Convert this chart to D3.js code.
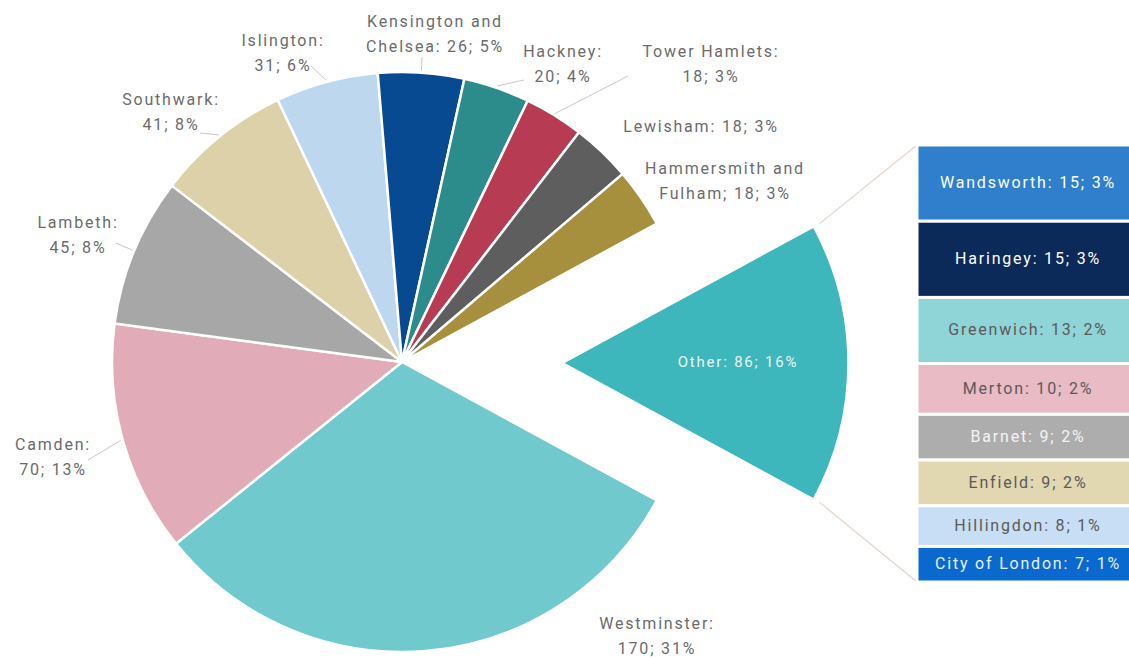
<!DOCTYPE html>
<html>
<head>
<meta charset="utf-8">
<script src="https://cdn.jsdelivr.net/npm/d3@7"></script>
<style>
  html, body { margin: 0; padding: 0; background: #ffffff; }
  svg { display: block; }
  text { font-family: "Roboto", "Noto Sans", sans-serif; letter-spacing: 1.8px; }
</style>
</head>
<body>
<svg id="chart" width="1129" height="660"></svg>
<script>
// Boroughs shown as their own pie slices (clockwise from the split-off slice)
const mainBoroughs = ["Westminster", "Camden", "Lambeth", "Southwark", "Islington",
  "Kensington and Chelsea", "Hackney", "Tower Hamlets", "Lewisham", "Hammersmith and Fulham"];
const mainValues = [170, 70, 45, 41, 31, 26, 20, 18, 18, 18];
const mainColors = ["#70c9cd", "#e2abb8", "#a7a7a7", "#dcd1a9", "#bdd7ee",
  "#074a92", "#2c8b8b", "#b73b53", "#5e5e5e", "#a68f3d"];

// Boroughs grouped into "Other" and broken out in the stacked bar
const otherBoroughs = ["Wandsworth", "Haringey", "Greenwich", "Merton", "Barnet",
  "Enfield", "Hillingdon", "City of London"];
const otherValues = [15, 15, 13, 10, 9, 9, 8, 7];
const otherColors = ["#2f7fcc", "#0b2a5a", "#8fd4d6", "#e8bbc5", "#adadad",
  "#e1d7b1", "#c8def4", "#0a69cf"];
const otherTextColors = ["#ffffff", "#ffffff", "#5a5a5a", "#5a5a5a", "#f4f4f4",
  "#5a5a5a", "#5a5a5a", "#e6f2ff"];
const otherLabel = "Other";
const otherColor = "#3db6bc";

// Label layout: text lines, anchor (centre x, first baseline y), optional leader end
const labelLayout = {
  "Westminster":            { lines: ["Westminster:", "{v}; {p}%"], x: 657, y: 629 },
  "Camden":                 { lines: ["Camden:", "{v}; {p}%"], x: 53, y: 450, leader: [88, 460] },
  "Lambeth":                { lines: ["Lambeth:", "{v}; {p}%"], x: 78, y: 228, leader: [116, 243] },
  "Southwark":              { lines: ["Southwark:", "{v}; {p}%"], x: 171, y: 105, leader: [200, 133] },
  "Islington":              { lines: ["Islington:", "{v}; {p}%"], x: 283, y: 46, leader: [311, 66] },
  "Kensington and Chelsea": { lines: ["Kensington and", "Chelsea: {v}; {p}%"], x: 435, y: 27, leader: [422, 57] },
  "Hackney":                { lines: ["Hackney:", "{v}; {p}%"], x: 563, y: 57, leader: [524, 80] },
  "Tower Hamlets":          { lines: ["Tower Hamlets:", "{v}; {p}%"], x: 711, y: 57, leader: [628, 76] },
  "Lewisham":               { lines: ["Lewisham: {v}; {p}%"], x: 701, y: 132 },
  "Hammersmith and Fulham": { lines: ["Hammersmith and", "Fulham; {v}; {p}%"], x: 725, y: 174 }
};

const svg = d3.select("#chart");
const W = 1129, H = 660;
svg.append("rect").attr("width", W).attr("height", H).attr("fill", "#ffffff");

const otherTotal = d3.sum(otherValues);
const slices = [{ name: otherLabel, value: otherTotal, color: otherColor }]
  .concat(mainBoroughs.map((n, i) => ({ name: n, value: mainValues[i], color: mainColors[i] })));
const total = d3.sum(slices, d => d.value);
const pct = v => Math.round(v / total * 100);

// Split-off slice is centred on the 3 o'clock direction
const otherSpan = otherTotal / total * 2 * Math.PI;
const start = Math.PI / 2 - otherSpan / 2;

const pie = d3.pie().sort(null).value(d => d.value)
  .startAngle(start).endAngle(start + 2 * Math.PI);
const arcsData = pie(slices);

const cx = 402, cy = 362, R = 290;
const otherCx = 563, otherCy = 363, otherR = 285;

const arc = d3.arc().innerRadius(0).outerRadius(R);
const otherArc = d3.arc().innerRadius(0).outerRadius(otherR);
const polar = (a, r) => [Math.sin(a) * r, -Math.cos(a) * r];

// Main pie
const gPie = svg.append("g").attr("transform", `translate(${cx},${cy})`);
gPie.selectAll("path.slice")
  .data(arcsData.filter(d => d.data.name !== otherLabel))
  .join("path")
  .attr("class", "slice")
  .attr("d", arc)
  .attr("fill", d => d.data.color)
  .attr("stroke", "#ffffff")
  .attr("stroke-width", 2.5)
  .attr("stroke-linejoin", "round");

// Exploded "Other" slice
const otherD = arcsData.find(d => d.data.name === otherLabel);
const gOther = svg.append("g").attr("transform", `translate(${otherCx},${otherCy})`);
gOther.append("path")
  .attr("d", otherArc(otherD))
  .attr("fill", otherColor)
  .attr("stroke", "#ffffff")
  .attr("stroke-width", 1.5);
gOther.append("text")
  .attr("x", 175).attr("y", 4)
  .attr("text-anchor", "middle")
  .attr("font-size", 15)
  .attr("fill", "#eaf9f9")
  .text(`${otherLabel}: ${otherTotal}; ${pct(otherTotal)}%`);

// Stacked bar breaking down "Other"
const barX = 917, barW = 222;
const y = d3.scaleLinear().domain([0, otherTotal]).range([145, 582]);
const cum = d3.cumsum(otherValues);
const barData = otherBoroughs.map((n, i) => ({
  name: n, value: otherValues[i], y0: cum[i] - otherValues[i], y1: cum[i],
  color: otherColors[i], text: otherTextColors[i]
}));

// Connector lines from the slice corners to the bar
const [tx, ty] = polar(otherD.startAngle, otherR + 7);
const [bx, by] = polar(otherD.endAngle, otherR + 7);
svg.append("line")
  .attr("x1", otherCx + tx).attr("y1", otherCy + ty)
  .attr("x2", barX).attr("y2", y(0))
  .attr("stroke", "#e6d3cb").attr("stroke-width", 1.2);
svg.append("line")
  .attr("x1", otherCx + bx).attr("y1", otherCy + by)
  .attr("x2", barX).attr("y2", y(otherTotal))
  .attr("stroke", "#e6d3cb").attr("stroke-width", 1.2);

const gBar = svg.append("g");
gBar.selectAll("rect")
  .data(barData)
  .join("rect")
  .attr("x", barX)
  .attr("y", d => y(d.y0))
  .attr("width", barW)
  .attr("height", d => y(d.y1) - y(d.y0))
  .attr("fill", d => d.color)
  .attr("stroke", "#ffffff")
  .attr("stroke-width", 3);
gBar.selectAll("text")
  .data(barData)
  .join("text")
  .attr("x", barX + barW / 2)
  .attr("y", d => (y(d.y0) + y(d.y1)) / 2 + 5)
  .attr("text-anchor", "middle")
  .attr("font-size", 16)
  .attr("fill", d => d.text)
  .text(d => `${d.name}: ${d.value}; ${pct(d.value)}%`);

// Outside labels and leader lines for the main slices
const gLab = svg.append("g");
arcsData.filter(d => d.data.name !== otherLabel).forEach(d => {
  const L = labelLayout[d.data.name];
  const v = d.data.value, p = pct(v);
  if (L.leader) {
    const mid = (d.startAngle + d.endAngle) / 2;
    const [px, py] = polar(mid, R + 2);
    gLab.append("line")
      .attr("x1", cx + px).attr("y1", cy + py)
      .attr("x2", L.leader[0]).attr("y2", L.leader[1])
      .attr("stroke", "#cfc6c6").attr("stroke-width", 1);
  }
  const t = gLab.append("text")
    .attr("text-anchor", "middle")
    .attr("font-size", 16)
    .attr("fill", "#6b6b6b");
  L.lines.forEach((line, i) => {
    t.append("tspan")
      .attr("x", L.x)
      .attr("y", L.y + i * 25)
      .text(line.replace("{v}", v).replace("{p}", p));
  });
});
</script>
</body>
</html>
